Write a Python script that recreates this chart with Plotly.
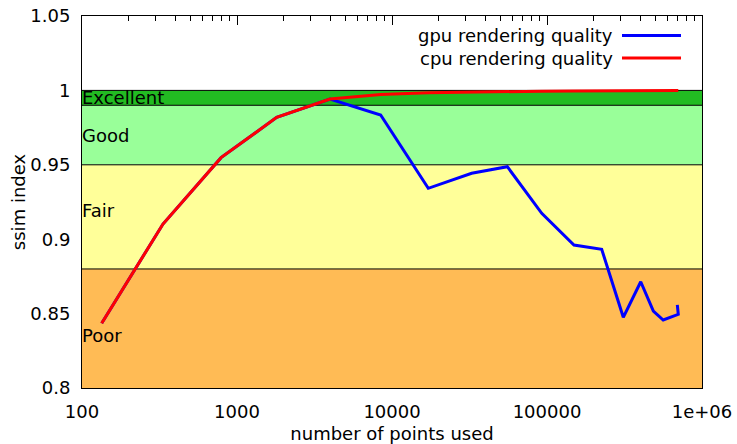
import plotly.graph_objects as go

# ---------------- data ----------------
gpu_x = [134, 333, 789, 1803, 3981, 8450, 17140, 32660, 55470, 92500,
         149300, 225400, 310600, 402500, 485500, 562000, 703000, 693000]
gpu_y = [0.8435, 0.9102, 0.9548, 0.9819, 0.9942, 0.9835, 0.9342, 0.9443, 0.9487, 0.9174,
         0.8961, 0.8932, 0.8475, 0.8714, 0.8517, 0.8457, 0.8495, 0.8558]

cpu_x = [134, 333, 789, 1803, 3981, 8450, 17140, 32660, 55470, 92500,
         149300, 225400, 310600, 402500, 485500, 562000, 703000]
cpu_y = [0.8435, 0.9102, 0.9548, 0.9819, 0.9942, 0.9972, 0.9984, 0.9990, 0.9993, 0.9995,
         0.9996, 0.9997, 0.9997, 0.9998, 0.9998, 0.9998, 0.9999]

band_names = ["Poor", "Fair", "Good", "Excellent"]
band_lo = [0.80, 0.88, 0.95, 0.99]
band_hi = [0.88, 0.95, 0.99, 1.00]
band_colors = ["#ffbb55", "#ffff99", "#99ff99", "#22bb22"]
band_label_y = [0.835, 0.9196, 0.970, 0.9952]

x_ticks = [100, 1000, 10000, 100000, 1000000]
x_ticktext = ["100", "1000", "10000", "100000", "1e+06"]
x_minor = [m * 10 ** k for k in range(2, 6) for m in range(2, 10)]
y_ticks = [0.8, 0.85, 0.9, 0.95, 1.0, 1.05]
y_ticktext = ["0.8", "0.85", "0.9", "0.95", "1", "1.05"]

series_names = ["gpu rendering quality", "cpu rendering quality"]
series_colors = ["#0000ff", "#ff0000"]

FONT = "DejaVu Sans"
FS = 18

# ---------------- figure ----------------
fig = go.Figure()
fig.add_trace(go.Scatter(x=gpu_x, y=gpu_y, mode="lines", name=series_names[0],
                         line=dict(color=series_colors[0], width=3), showlegend=False))
fig.add_trace(go.Scatter(x=cpu_x, y=cpu_y, mode="lines", name=series_names[1],
                         xaxis="x2",
                         line=dict(color=series_colors[1], width=3), showlegend=False))

shapes = []
annotations = []
for name, lo, hi, col, ly in zip(band_names, band_lo, band_hi, band_colors, band_label_y):
    shapes.append(dict(type="rect", xref="paper", yref="y", x0=0, x1=1, y0=lo, y1=hi,
                       fillcolor=col, line=dict(width=0), layer="below"))
    annotations.append(dict(text=name, xref="paper", yref="y", x=0, y=ly,
                            xanchor="left", yanchor="middle", showarrow=False,
                            xshift=-2,
                            font=dict(family=FONT, size=FS, color="#000000")))
for b in sorted(set(band_lo[1:] + band_hi)):
    shapes.append(dict(type="line", xref="paper", yref="y", x0=0, x1=1, y0=b, y1=b,
                       line=dict(color="#000000", width=1), layer="below"))

# custom gnuplot-like key (text right, sample line on its right)
W, H = 620.0, 372.0
key_text_right = (615 - 82) / W
key_line_x0 = (622 - 82) / W
key_line_x1 = (681 - 82) / W
key_rows_y = [(388 - 35.5) / H, (388 - 58) / H]
for name, col, ky in zip(series_names, series_colors, key_rows_y):
    annotations.append(dict(text=name, xref="paper", yref="paper", x=key_text_right, y=ky,
                            xanchor="right", yanchor="middle", showarrow=False,
                            font=dict(family=FONT, size=FS, color="#000000")))
    shapes.append(dict(type="line", xref="paper", yref="paper", x0=key_line_x0, x1=key_line_x1,
                       y0=ky, y1=ky, line=dict(color=col, width=3), layer="above"))

fig.update_layout(
    width=737, height=444,
    margin=dict(l=82, r=35, t=16, b=56, autoexpand=False),
    paper_bgcolor="white", plot_bgcolor="white",
    font=dict(family=FONT, size=FS, color="#000000"),
    showlegend=False,
    shapes=shapes,
    annotations=annotations,
    xaxis=dict(type="log", range=[2, 6], tickvals=x_ticks, ticktext=x_ticktext,
               ticks="", showgrid=False, zeroline=False, automargin=False,
               showline=True, linecolor="#000000", linewidth=1, mirror=True,
               ticklabelstandoff=7,
               title=dict(text="number of points used", standoff=9,
                          font=dict(family=FONT, size=FS))),
    xaxis2=dict(type="log", range=[2, 6], overlaying="x", side="top", automargin=False,
                tickvals=x_ticks, showticklabels=False, ticks="inside", ticklen=9,
                tickcolor="#000000", tickwidth=1, showgrid=False, zeroline=False,
                minor=dict(tickvals=x_minor, ticks="inside", ticklen=5,
                           tickcolor="#000000", tickwidth=1, showgrid=False)),
    yaxis=dict(range=[0.8, 1.05], tickvals=y_ticks, ticktext=y_ticktext,
               ticks="", showgrid=False, zeroline=False, automargin=False,
               showline=True, linecolor="#000000", linewidth=1, mirror=True,
               ticklabelstandoff=7,
               title=dict(text="ssim index", standoff=0,
                          font=dict(family=FONT, size=FS))),
)

# remove the browser's default 8px page margin so the figure sits at the window origin
fig.write_html("out.html",
               config={"displayModeBar": False},
               post_script="document.body.style.margin='0';document.body.style.overflow='hidden';")
